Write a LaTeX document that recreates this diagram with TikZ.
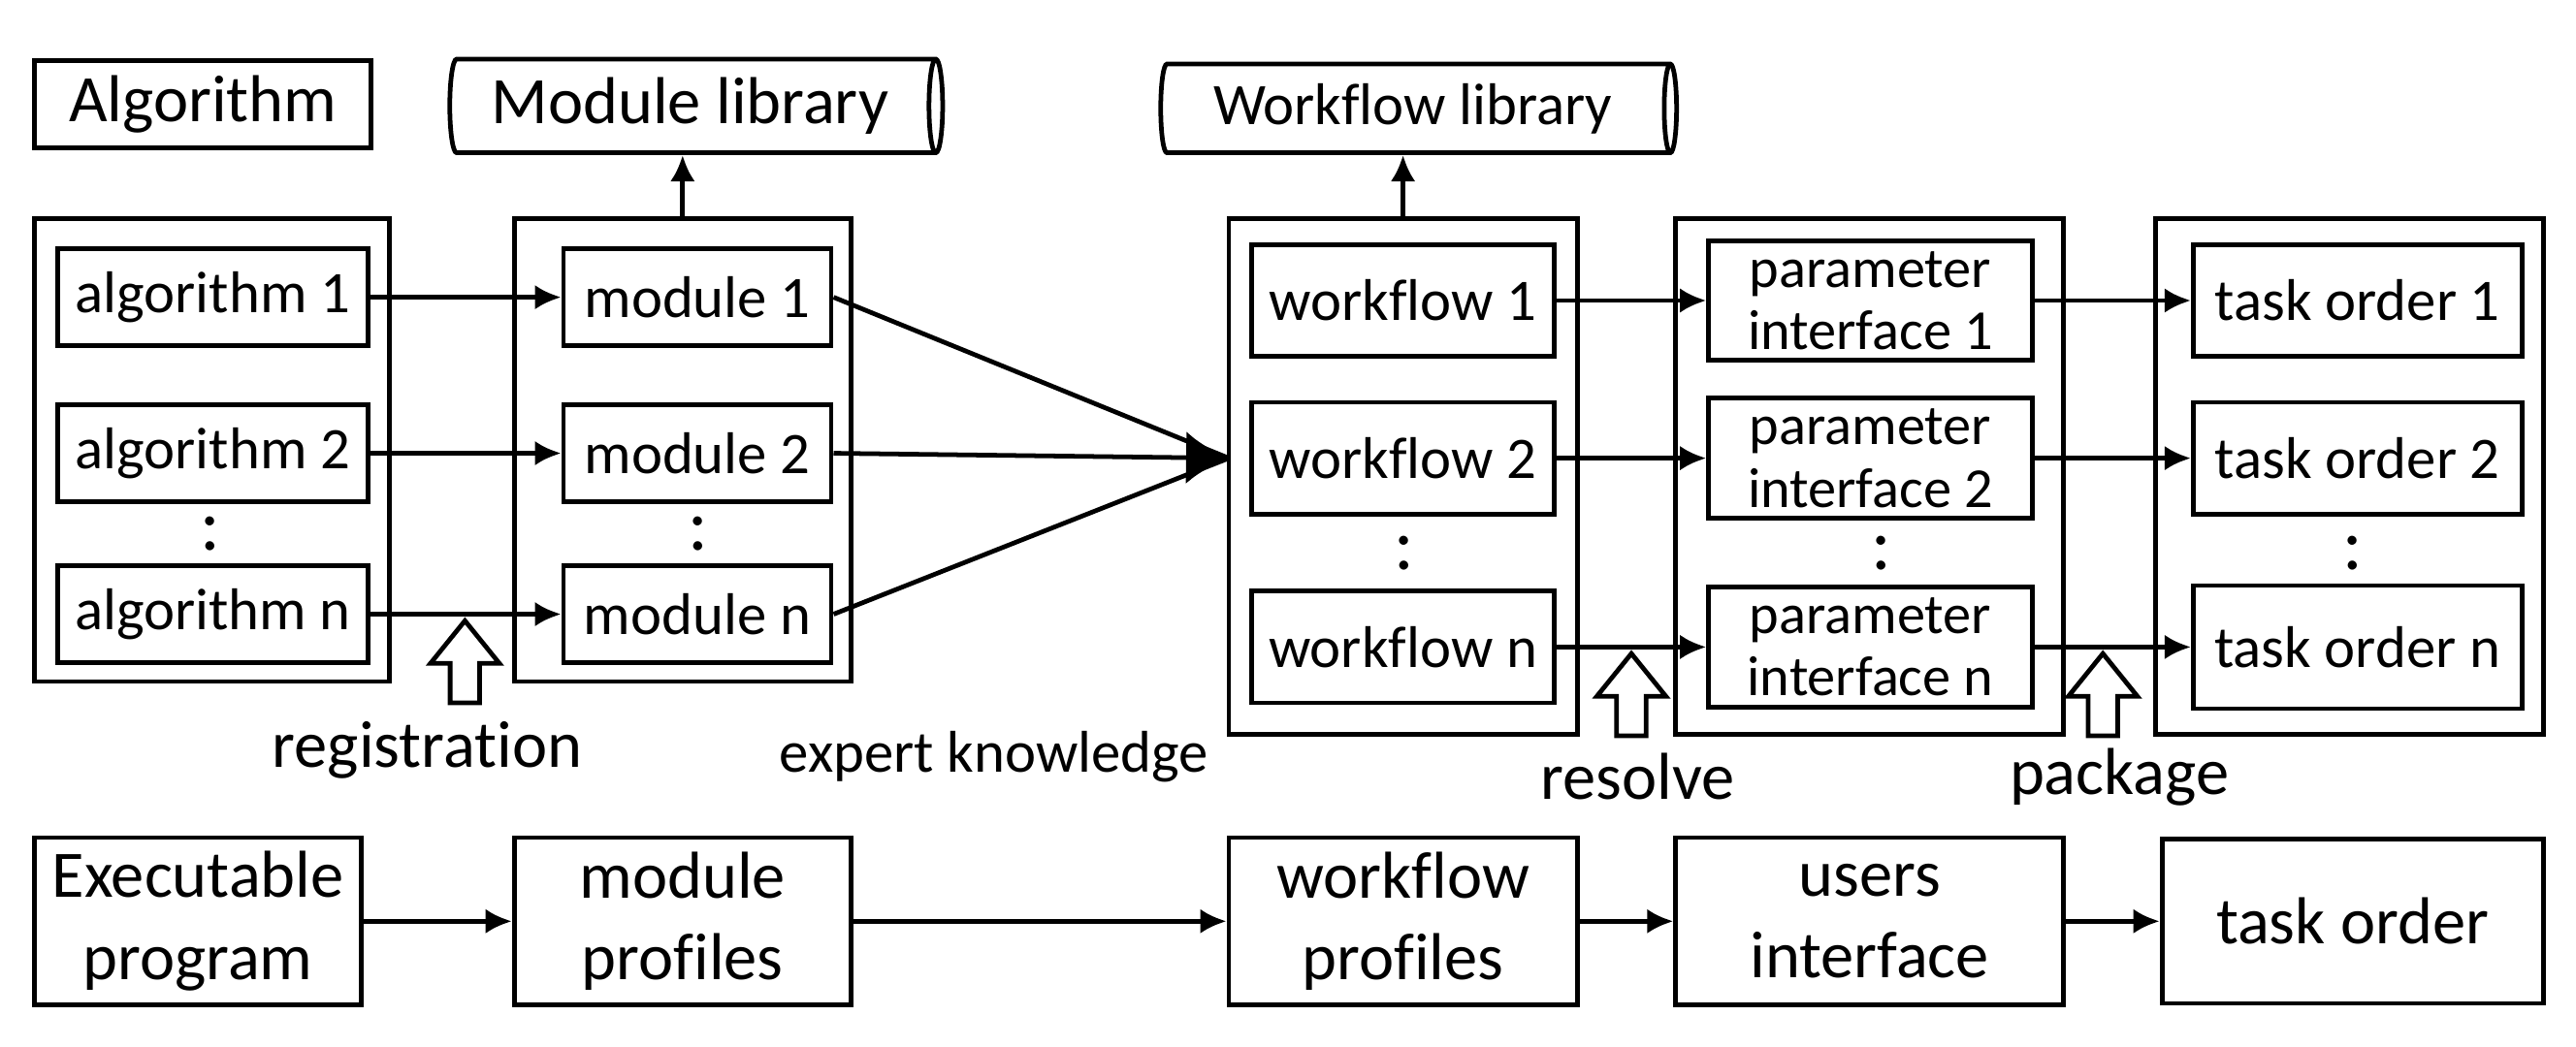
\documentclass[tikz,border=0pt]{standalone}
\usepackage{fontspec}
\setmainfont{Carlito}[Ligatures=NoCommon]
\usepackage{tikz}
\usetikzlibrary{shapes, arrows.meta, positioning}
\tikzstyle{grpbox}   = [rectangle, draw, line width=0.8pt, inner sep=0pt]
\tikzstyle{inbox}    = [rectangle, draw, line width=0.8pt, inner sep=1pt, align=center,
                        font=\fontsize{10.2}{11.5}\selectfont]
\tikzstyle{algstep}  = [inbox, minimum width=1.89cm, minimum height=0.59cm]
\tikzstyle{modstep}  = [inbox, minimum width=1.63cm, minimum height=0.59cm]
\tikzstyle{wfstep}   = [inbox, minimum width=1.84cm, minimum height=0.68cm]
\tikzstyle{parstep}  = [inbox, minimum width=1.97cm, minimum height=0.73cm,
                        font=\fontsize{9.8}{10.8}\selectfont]
\tikzstyle{taskstep} = [inbox, minimum width=2.00cm, minimum height=0.68cm]
\tikzstyle{bigbox}   = [rectangle, draw, line width=0.8pt, inner sep=1pt, align=center,
                        minimum height=1.02cm, font=\fontsize{11.5}{14.2}\selectfont]
\tikzstyle{store}    = [cylinder, draw, line width=0.8pt, shape aspect=0.2, inner sep=1pt]
\tikzstyle{ellip}    = [font=\fontsize{13}{13}\selectfont, inner sep=0pt]
\tikzstyle{stagetext}= [font=\fontsize{11.5}{14}\selectfont, inner sep=0pt]
\tikzstyle{hollow}   = [draw, line width=0.8pt, fill=white]
\tikzstyle{arrow}    = [line width=0.8pt, -{Latex[length=1.6mm, width=1.5mm]}]

\begin{document}
\begin{tikzpicture}[node distance=0.95cm]
    \useasboundingbox (0,0) rectangle (15.68,-6.37);
    % top row
    \node (algo) [bigbox, minimum width=2.05cm, minimum height=0.53cm] at (1.235,-0.635) {Algorithm};
    \node (modlib) [store, minimum height=3.00cm, minimum width=0.57cm, font=\fontsize{11.5}{14}\selectfont] at (4.20,-0.645) {Module library};
    \node (wflib) [store, minimum height=3.14cm, minimum width=0.54cm, font=\fontsize{10.2}{12}\selectfont] at (8.60,-0.66) {Workflow library};
    % group boxes
    \node (algbox) [grpbox, minimum width=2.16cm, minimum height=2.82cm] at (1.29,-2.74) {};
    \node (modbox) [grpbox, minimum width=2.05cm, minimum height=2.82cm] at (4.155,-2.74) {};
    \node (wfbox) [grpbox, minimum width=2.12cm, minimum height=3.14cm] at (8.54,-2.90) {};
    \node (parbox) [grpbox, minimum width=2.36cm, minimum height=3.14cm] at (11.38,-2.90) {};
    \node (taskbox) [grpbox, minimum width=2.36cm, minimum height=3.14cm] at (14.30,-2.90) {};
    % algorithms and modules
    \node (alg1) [algstep] at (1.295,-1.81) {algorithm 1};
    \node (alg2) [algstep, below of=alg1] {algorithm 2};
    \node (algn) [algstep, below of=alg2, node distance=0.98cm] {algorithm n};
    \node (mod1) [modstep] at (4.245,-1.81) {module 1};
    \node (mod2) [modstep, below of=mod1] {module 2};
    \node (modn) [modstep, below of=mod2, node distance=0.98cm] {module n};
    % workflows, interfaces, orders
    \node (wf1) [wfstep] at (8.54,-1.83) {workflow 1};
    \node (wf2) [wfstep, below of=wf1, node distance=0.96cm] {workflow 2};
    \node (wfn) [wfstep, below of=wf2, node distance=1.15cm] {workflow n};
    \node (par1) [parstep] at (11.385,-1.83) {parameter\\interface 1};
    \node (par2) [parstep, below of=par1, node distance=0.96cm] {parameter\\interface 2};
    \node (parn) [parstep, below of=par2, node distance=1.15cm] {parameter\\interface n};
    \node (task1) [taskstep] at (14.35,-1.83) {task order 1};
    \node (task2) [taskstep, below of=task1, node distance=0.96cm] {task order 2};
    \node (taskn) [taskstep, below of=task2, node distance=1.15cm, minimum height=0.75cm] {task order n};
    \node (dalg) [ellip] at (1.28,-3.25) {:};
    \node (dmod) [ellip] at (4.25,-3.25) {:};
    \node (dwf) [ellip] at (8.55,-3.37) {:};
    \node (dpar) [ellip] at (11.45,-3.37) {:};
    \node (dtask) [ellip] at (14.32,-3.37) {:};
    % bottom row
    \node (exe) [bigbox, minimum width=1.99cm] at (1.205,-5.61) {Executable\\program};
    \node (modprof) [bigbox, minimum width=2.05cm] at (4.155,-5.61) {module\\profiles};
    \node (wfprof) [bigbox, minimum width=2.12cm] at (8.54,-5.61) {workflow\\profiles};
    \node (usrif) [bigbox, minimum width=2.36cm] at (11.38,-5.61) {users\\interface};
    \node (order) [bigbox, minimum width=2.32cm, minimum height=1.00cm] at (14.32,-5.61) {task order};
    % block arrows and their words
    \foreach \px/\ytip in {2.83/-3.78, 9.93/-3.98, 12.80/-3.98}
        \draw[hollow] (\px,\ytip) -- ++(-0.21,-0.26) -- ++(0.12,0) -- ++(0,-0.24) -- ++(0.18,0)
            -- ++(0,0.24) -- ++(0.12,0) -- cycle;
    \node (reg) [stagetext] at (2.60,-4.57) {registration};
    \node (expert) [stagetext, font=\fontsize{10.2}{12}\selectfont] at (6.05,-4.61) {expert knowledge};
    \node (res) [stagetext] at (9.97,-4.73) {resolve};
    \node (pkg) [stagetext] at (12.90,-4.73) {package};
    % connectors
    \draw[arrow] (modbox.north) -- (modbox.north |- modlib.south);
    \draw[arrow] (wfbox.north) -- (wfbox.north |- wflib.south);
    \draw[arrow] (alg1) -- (mod1); \draw[arrow] (alg2) -- (mod2); \draw[arrow] (algn) -- (modn);
    \coordinate (join) at (7.48,-2.79);
    \draw[line width=0.8pt] (mod1.east) -- (join);
    \draw[line width=0.8pt] (modn.east) -- (join);
    \draw[line width=0.8pt, -{Latex[length=2.6mm, width=3.2mm]}] (mod2.east) -- (join);
    \draw[arrow] (wf1) -- (par1); \draw[arrow] (wf2) -- (par2); \draw[arrow] (wfn) -- (parn);
    \draw[arrow] (par1) -- (task1); \draw[arrow] (par2) -- (task2); \draw[arrow] (parn) -- (taskn);
    \draw[arrow] (exe) -- (modprof); \draw[arrow] (modprof) -- (wfprof);
    \draw[arrow] (wfprof) -- (usrif); \draw[arrow] (usrif) -- (order);
\end{tikzpicture}
\end{document}
